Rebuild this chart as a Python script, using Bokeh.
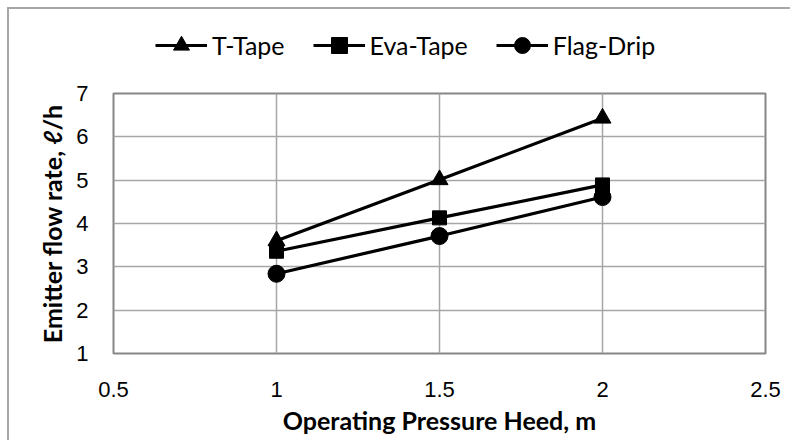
from bokeh.plotting import figure
from bokeh.models import Legend, LegendItem, Range1d, FixedTicker
from bokeh.layouts import column
from bokeh.embed import file_html
from bokeh.resources import INLINE

pressure = [1.0, 1.5, 2.0]
t_tape = [3.60, 5.01, 6.43]
eva_tape = [3.36, 4.13, 4.89]
flag_drip = [2.84, 3.71, 4.61]
x_ticks = [0.5, 1.0, 1.5, 2.0, 2.5]
y_ticks = [1, 2, 3, 4, 5, 6, 7]
series_names = ["T-Tape", "Eva-Tape", "Flag-Drip"]
series_values = [t_tape, eva_tape, flag_drip]

markers = ["triangle", "square", "circle"]
marker_sizes = [17, 14, 17]

# ---- legend strip (top); its view range is away from the data so only the legend shows ----
leg = figure(width=790, height=70, output_backend="svg", toolbar_location=None,
             x_range=Range1d(10, 11), y_range=Range1d(10, 11),
             x_axis_location=None, y_axis_location=None, min_border=0)
leg.grid.visible = False
leg.outline_line_color = None
leg.background_fill_alpha = 0
leg.border_fill_alpha = 0

items = []
for name, ys, mk, ms in zip(series_names, series_values, markers, marker_sizes):
    lr = leg.line(pressure, ys, line_color="black", line_width=3)
    sr = leg.scatter(pressure, ys, marker=mk, size=ms, fill_color="black", line_color="black")
    items.append(LegendItem(label=name, renderers=[lr, sr]))

legend = Legend(items=items, orientation="horizontal", location=(42, 5))
legend.border_line_color = None
legend.background_fill_alpha = 0
legend.padding = 0
legend.margin = 0
legend.spacing = 28
legend.glyph_width = 52
legend.glyph_height = 40
legend.label_height = 40
legend.label_standoff = 5
legend.label_text_font = "Lato"
legend.label_text_font_size = "25px"
legend.label_text_color = "black"
leg.add_layout(legend, "center")

# ---- main chart ----
p = figure(width=790, height=370, output_backend="svg", toolbar_location=None,
           x_range=Range1d(0.5, 2.5), y_range=Range1d(1, 7),
           min_border_left=113, min_border_right=25, min_border_top=23, min_border_bottom=87)
p.background_fill_color = "white"
p.border_fill_alpha = 0
p.outline_line_color = "#868686"
p.outline_line_width = 2

p.xaxis.ticker = FixedTicker(ticks=x_ticks)
p.yaxis.ticker = FixedTicker(ticks=y_ticks)
p.xaxis.major_label_overrides = {0.5: "0.5", 1.0: "1", 1.5: "1.5", 2.0: "2", 2.5: "2.5"}
for ax in (p.xaxis[0], p.yaxis[0]):
    ax.axis_line_color = None
    ax.major_tick_line_color = None
    ax.minor_tick_line_color = None
    ax.major_label_text_font = "Liberation Sans"
    ax.major_label_text_font_size = "22px"
    ax.major_label_text_color = "black"
    ax.axis_label_text_font = "Lato"
    ax.axis_label_text_font_style = "bold"
    ax.axis_label_text_font_size = "25px"
    ax.axis_label_text_color = "black"
p.xaxis.axis_label = "Operating Pressure Heed, m"
p.yaxis.axis_label = "Emitter flow rate, ℓ/h"
p.xaxis.major_label_standoff = 22
p.yaxis.major_label_standoff = 19
p.xaxis.axis_label_standoff = 5
p.yaxis.axis_label_standoff = 6

p.xgrid.grid_line_color = "#a6a6a6"
p.ygrid.grid_line_color = "#a6a6a6"
p.xgrid.grid_line_width = 1.5
p.ygrid.grid_line_width = 1.5

for ys, mk, ms in zip(series_values, markers, marker_sizes):
    p.line(pressure, ys, line_color="black", line_width=3.2)
    p.scatter(pressure, ys, marker=mk, size=ms, fill_color="black", line_color="black")

layout = column(leg, p, spacing=0)
layout.styles = {"background": "linear-gradient(#a6a6a6,#a6a6a6) 7px 7px / 2px 100% no-repeat, "
                               "linear-gradient(#a6a6a6,#a6a6a6) 7px 7px / 100% 2px no-repeat, white"}

open("out.html", "w").write(file_html(layout, INLINE))
